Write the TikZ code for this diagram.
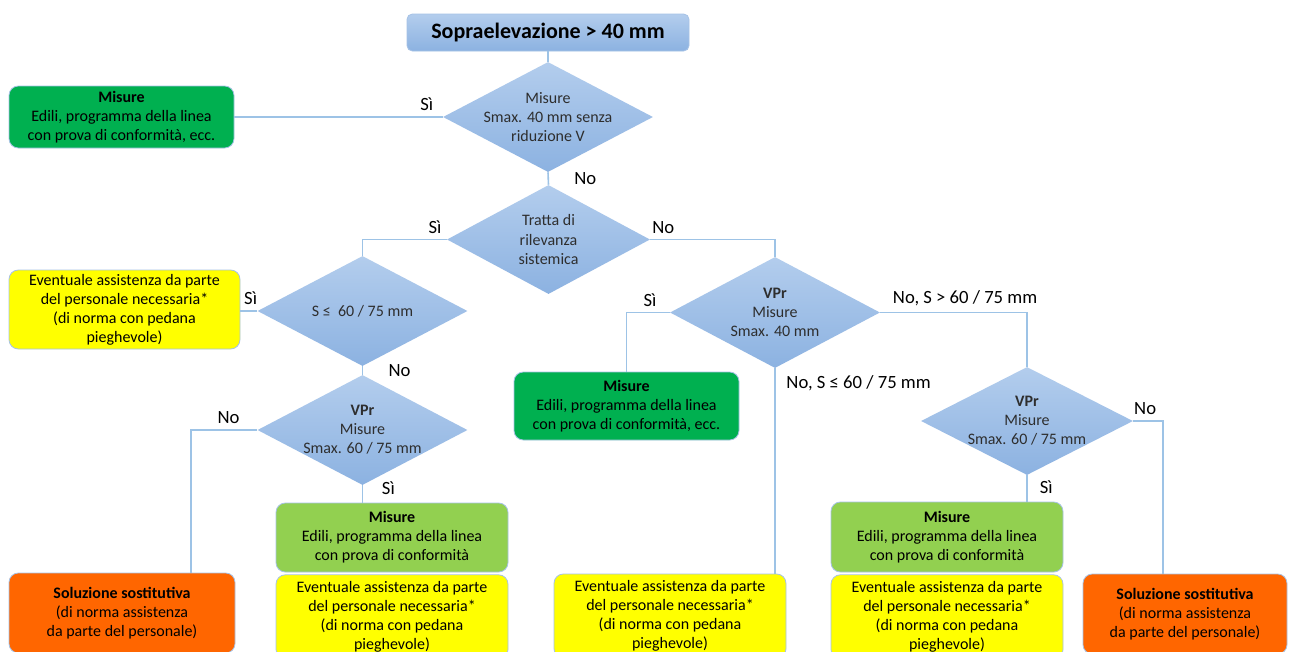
\documentclass[tikz,border=0pt]{standalone}
\usepackage{fontspec}
\setmainfont{Carlito}
\usepackage{tikz}
\usetikzlibrary{shapes.geometric,positioning,calc}
\definecolor{LineB}{HTML}{9DC3E6}
\definecolor{EdgeB}{HTML}{A6C2E6}
\definecolor{DecTop}{HTML}{B3CDED}
\definecolor{DecBot}{HTML}{8CB2E1}
\definecolor{GreenD}{HTML}{00B050}
\definecolor{GreenL}{HTML}{92D050}
\definecolor{Yel}{HTML}{FFFF00}
\definecolor{Ora}{HTML}{FF6600}
\definecolor{TxtG}{HTML}{2E2E2E}

\begin{document}
\begin{tikzpicture}[
  x=0.75pt, y=-0.75pt,
  font=\fontsize{12}{14.3}\selectfont,
  box/.style={draw=EdgeB, line width=0.6pt, rounded corners=7pt, align=center,
    inner sep=0pt, text=black, minimum width=174pt},
  dec/.style={diamond, aspect=1.9, draw=none, top color=DecTop, bottom color=DecBot,
    minimum width=157.5pt, minimum height=82.5pt, inner sep=-15pt, align=center, text=TxtG},
  hdr/.style={draw=EdgeB, line width=0.6pt, rounded corners=4pt, top color=DecTop,
    bottom color=DecBot, minimum width=211.5pt, minimum height=27.75pt,
    font=\fontsize{16.5}{19}\selectfont\bfseries},
  con/.style={draw=LineB, line width=1.2pt},
  lbl/.style={font=\fontsize{14}{16}\selectfont, inner sep=4pt}
]
  \clip (0,0) rectangle (1300,651);
  \fill[white] (0,0) rectangle (1300,651);

  % decisions
  \node[hdr] (title) at (548,32.5) {Sopraelevazione > 40 mm};
  \node[dec] (d1) at (548,117) {Misure\\Smax. 40 mm senza\\riduzione V};
  \node[dec, minimum width=152.25pt, minimum height=81.75pt] (d2) at (548.5,239.5)
       {Tratta di\\rilevanza\\sistemica};
  \node[dec] (d3) at (362.5,311) {S ≤\ \ 60 / 75 mm};
  \node[dec] (d5) at (362.5,430) {\textbf{VPr}\\Misure\\Smax. 60 / 75 mm};
  \node[dec, minimum height=83.25pt] (d4) at (775,312.5) {\textbf{VPr}\\Misure\\Smax. 40 mm};
  \node[dec, minimum width=159pt, minimum height=81pt] (d6) at (1027,421)
       {\textbf{VPr}\\Misure\\Smax. 60 / 75 mm};

  % outcomes
  \node[box, fill=GreenD, minimum width=168.75pt, minimum height=46.5pt] (g1) at (121.5,117)
       {\textbf{Misure}\\Edili, programma della linea\\con prova di conformità, ecc.};
  \node[box, fill=Yel, minimum width=173.25pt, minimum height=59.25pt] (y1) at (124.5,309.5)
       {Eventuale assistenza da parte\\del personale necessaria*\\(di norma con pedana\\pieghevole)};
  \node[box, fill=GreenD, minimum width=168.75pt, minimum height=51pt] (g2) at (626.5,406)
       {\textbf{Misure}\\Edili, programma della linea\\con prova di conformità, ecc.};
  \node[box, fill=GreenL, minimum height=51.75pt] (lg1) at (392,537.5)
       {\textbf{Misure}\\Edili, programma della linea\\con prova di conformità};
  \node[box, fill=Yel, minimum height=63pt, below=1.5pt of lg1] (y2)
       {Eventuale assistenza da parte\\del personale necessaria*\\(di norma con pedana\\pieghevole)};
  \node[box, fill=Ora, minimum width=169.5pt, minimum height=60pt] (o1) at (122,613)
       {\textbf{Soluzione sostitutiva}\\(di norma assistenza\\da parte del personale)};
  \node[box, fill=Yel, minimum height=63pt] (y3) at (670,616)
       {Eventuale assistenza da parte\\del personale necessaria*\\(di norma con pedana\\pieghevole)};
  \node[box, fill=GreenL, minimum height=52.5pt] (lg2) at (947,537)
       {\textbf{Misure}\\Edili, programma della linea\\con prova di conformità};
  \node[box, fill=Yel, minimum height=63pt, below=1.5pt of lg2] (y4)
       {Eventuale assistenza da parte\\del personale necessaria*\\(di norma con pedana\\pieghevole)};
  \node[box, fill=Ora, minimum width=153pt, minimum height=60pt] (o2) at (1185,614)
       {\textbf{Soluzione sostitutiva}\\(di norma assistenza\\da parte del personale)};

  % connectors
  \draw[con] (title.south) -- (d1.north);
  \draw[con] (d1.west) -- node[lbl, pos=0.077, above]{Sì} (g1.east);
  \draw[con] (d1.south) -- node[lbl, midway, right=15pt]{No} (d2.north);
  \draw[con] (d2.west) -| node[lbl, pos=0.07, above]{Sì} (d3.north);
  \draw[con] (d2.east) -| node[lbl, pos=0.052, above]{No} (d4.north);
  \draw[con] (d3.west) -- node[lbl, pos=0.39, above]{Sì} (d3.west -| y1.east);
  \draw[con] (d3.south) -- node[lbl, midway, right=15pt]{No} (d5.north);
  \draw[con] (d5.west) -| node[lbl, pos=0.216, above]{No} ($(o1.north)+(69,0)$);
  \draw[con] (d5.south) -- node[lbl, pos=0.17, right=10pt]{Sì} (d5.south |- lg1.north);
  \draw[con] (d4.west) -| node[lbl, pos=0.227, above]{Sì} (g2.north);
  \draw[con] (d4.east) -| node[lbl, pos=0.289, above]{No, S > 60 / 75 mm} (d6.north);
  \draw[con] (d4.south) -- node[lbl, pos=0.073, right=4pt]{No, S ≤ 60 / 75 mm} (d4.south |- y3.north);
  \draw[con] (d6.east) -| node[lbl, pos=0.2, above]{No} ($(o2.north)+(-22,0)$);
  \draw[con] (d6.south) -- node[lbl, pos=0.44, right=5pt]{Sì} (d6.south |- lg2.north);
\end{tikzpicture}
\end{document}
